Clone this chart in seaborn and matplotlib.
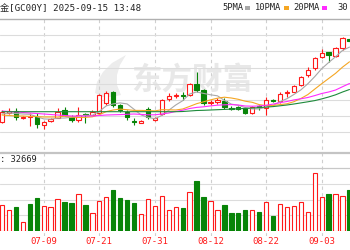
import numpy as np
import pandas as pd
import matplotlib
matplotlib.use("Agg")
import matplotlib.pyplot as plt
import seaborn as sns
from matplotlib.patches import Rectangle, Polygon

sns.set_theme(style="white")
plt.rcParams['font.family'] = ['DejaVu Sans Mono', 'Noto Sans CJK SC']

# ---------------- data ----------------
dates = ["07-01", "07-02", "07-03", "07-04", "07-07", "07-08", "07-09", "07-10", "07-11", "07-14",
         "07-15", "07-16", "07-17", "07-18", "07-21", "07-22", "07-23", "07-24", "07-25", "07-28",
         "07-29", "07-30", "07-31", "08-01", "08-04", "08-05", "08-06", "08-07", "08-08", "08-11",
         "08-12", "08-13", "08-14", "08-15", "08-18", "08-19", "08-20", "08-21", "08-22", "08-25",
         "08-26", "08-27", "08-28", "08-29", "09-01", "09-02", "09-03", "09-04", "09-05", "09-08",
         "09-09"]
tick_labels = ["07-09", "07-21", "07-31", "08-12", "08-22", "09-03"]

open_ = [3260, 3305, 3317.5, 3280, 3285, 3287.5, 3245, 3265, 3282.5, 3322.5,
         3287.5, 3270, 3302.5, 3297.5, 3305, 3355, 3410, 3345, 3312.5, 3265,
         3257.5, 3325, 3272.5, 3300, 3377.5, 3392.5, 3397.5, 3395, 3450, 3420,
         3355, 3361.5, 3366.5, 3332.5, 3337.5, 3330, 3305, 3340, 3332.5, 3371,
         3367.5, 3405, 3411.5, 3445, 3495, 3528.5, 3586.5, 3610, 3590, 3628.5,
         3677.5]
high = [3320, 3330, 3330, 3292.5, 3305, 3305, 3267.5, 3282.5, 3332.5, 3335,
        3295, 3335, 3307.5, 3320, 3400, 3417.5, 3415, 3352.5, 3320, 3280,
        3272.5, 3337.5, 3287.5, 3375, 3405, 3407.5, 3410, 3455, 3510, 3427.5,
        3372.5, 3380, 3380, 3342.5, 3342.5, 3335, 3342.5, 3347.5, 3385, 3377.5,
        3412.5, 3420, 3445, 3490, 3535, 3587.5, 3627.5, 3611.5, 3635, 3686.5,
        3682.5]
low = [3255, 3300, 3270, 3275, 3240, 3230, 3227.5, 3260, 3280, 3290,
       3260, 3260, 3255, 3295, 3300, 3345, 3337.5, 3312.5, 3270, 3245,
       3255, 3275, 3265, 3295, 3365, 3382.5, 3370, 3390, 3410, 3347.5,
       3345, 3350, 3325, 3320, 3320, 3302.5, 3300, 3320, 3295, 3362.5,
       3355, 3385, 3410, 3440, 3485, 3520, 3581.5, 3561.5, 3585, 3620,
       3660]
close = [3312.5, 3317.5, 3285, 3287.5, 3290, 3252.5, 3262.5, 3277.5, 3312.5, 3295,
         3270, 3295, 3295, 3310, 3395, 3407.5, 3345, 3320, 3285, 3260,
         3267.5, 3285, 3282.5, 3370, 3390, 3397.5, 3392.5, 3450, 3420, 3355,
         3362.5, 3368.5, 3335, 3327.5, 3325, 3305, 3335, 3335, 3370, 3367.5,
         3402.5, 3408.5, 3440, 3485, 3520, 3581.5, 3606.5, 3595, 3628.5, 3678.5,
         3665]

ma5 = [3300, 3305, 3302.5, 3300, 3298.5, 3286.5, 3275.5, 3274, 3279, 3280,
       3283.5, 3290, 3293.5, 3293, 3313, 3340.5, 3350.5, 3355.5, 3350.5, 3323.5,
       3295.5, 3283.5, 3276, 3293, 3319, 3345, 3366.5, 3400, 3410, 3403,
       3396, 3391, 3368, 3349.5, 3343.5, 3332, 3325.5, 3325.5, 3334, 3342.5,
       3362, 3376.5, 3397.5, 3420.5, 3451, 3487, 3526.5, 3557.5, 3586.5, 3618,
       3634.5]
ma10 = [3295, 3292.5, 3290, 3290, 3287.5, 3287.5, 3285, 3285, 3285, 3289,
        3285, 3282.5, 3283.5, 3286, 3296.5, 3312, 3320, 3324.5, 3321.5, 3318,
        3318, 3317, 3315.5, 3321.5, 3321, 3320, 3325, 3338, 3351.5, 3361,
        3370.5, 3379, 3384, 3380, 3373.5, 3364, 3358.5, 3347, 3342, 3343,
        3347, 3351, 3361.5, 3377.5, 3397, 3424.5, 3451.5, 3477.5, 3503.5, 3534.5,
        3561]
ma20 = [3315, 3312.5, 3310, 3307.5, 3305, 3302.5, 3300, 3297.5, 3295, 3292.5,
        3290, 3290, 3290, 3290, 3292.5, 3295, 3296, 3297, 3298.5, 3300,
        3298, 3296, 3296, 3300, 3305, 3312.5, 3319, 3327.5, 3333, 3336,
        3340.5, 3344, 3346, 3347, 3345, 3340, 3339, 3340, 3344, 3349.5,
        3356.5, 3362.5, 3370.5, 3376, 3382.5, 3392, 3402.5, 3410, 3420, 3436.5,
        3452.5]
ma30 = [3311.5, 3311.5, 3311.5, 3311.5, 3311.5, 3311.5, 3311.5, 3311.5, 3311.5, 3311.5,
        3311.5, 3311.5, 3311.5, 3311.5, 3311.5, 3311.5, 3311.5, 3311.5, 3311.5, 3311.5,
        3311.5, 3311.5, 3311.5, 3311.5, 3311.5, 3311.5, 3312.5, 3315, 3317.5, 3318.5,
        3320, 3321.5, 3323, 3324.5, 3326, 3328, 3330, 3332, 3334.5, 3337,
        3341, 3345, 3350, 3355.5, 3361, 3367, 3375.5, 3385, 3396, 3410,
        3422.5]

volume = [83900, 67700, 78400, 29000, 87100, 106500, 80600, 77400, 103200, 93500,
          90300, 119400, 83900, 58100, 96800, 109700, 132300, 106500, 100000, 90300,
          54800, 103200, 80600, 112900, 67700, 76500, 73200, 124800, 161300, 110600,
          95800, 66800, 83900, 59000, 59000, 66800, 66800, 61300, 93500, 47400,
          87100, 76500, 79700, 93500, 61300, 186100, 110600, 120300, 120300, 113900,
          132300]
vol_up = [1, 1, 0, 1, 0, 0, 1, 1, 1, 0,
          0, 1, 0, 1, 1, 1, 0, 0, 0, 0,
          1, 1, 1, 1, 1, 1, 0, 1, 0, 0,
          1, 1, 0, 0, 0, 0, 1, 0, 1, 0,
          1, 1, 1, 1, 1, 1, 1, 0, 1, 1,
          0]

title_text = "金[GC00Y] 2025-09-15 13:48"
legend_labels = ["5PMA", "10PMA", "20PMA", "30"]
volume_text = ": 32669"
watermark = "东方财富"

# ---------------- styling ----------------
RED = "#ff1a1a"
GREEN = "#088408"
MA_COLORS = ["#a8a8a8", "#f5a623", "#ff2bff", "#1e8a3c"]
GRID = "#dcdcdc"

W, H = 350, 250
def fy(py):
    return 1 - py / H

step = 6.95
xmin = -2.0 / step
xmax = xmin + W / step

df = pd.DataFrame({"idx": np.arange(len(dates)), "date": dates,
                   "open": open_, "high": high, "low": low, "close": close,
                   "ma5": ma5, "ma10": ma10, "ma20": ma20, "ma30": ma30,
                   "volume": volume, "vol_up": vol_up})

fig = plt.figure(figsize=(W / 100, H / 100), dpi=100, facecolor="white")

# background axes: dashed verticals + watermark
bg = fig.add_axes([0, fy(236), 1, fy(19) - fy(236)], facecolor="none")
bg.set_xlim(xmin, xmax)
bg.set_ylim(0, 1)
bg.axis("off")
tick_idx = [dates.index(t) for t in tick_labels]
for t in tick_idx:
    bg.axvline(t, color="#cfcfcf", lw=0.8, ls=(0, (3, 3)))
bg.text(192 / W, fy(80), watermark, transform=fig.transFigure, ha="center", va="center",
        fontsize=22, color="#e8e8e8", fontweight="bold", family=["Noto Sans CJK SC"])
# light flame-like logo of the watermark
logo_px = [(95, 93), (97, 82), (103, 72), (112, 63), (126, 55), (120, 65), (117, 75),
           (117, 85), (121, 95), (112, 97), (102, 97)]
bg.add_patch(Polygon([(px / W, fy(py)) for px, py in logo_px], closed=True,
                     facecolor="#ececec", edgecolor="none", transform=fig.transFigure))

# price axes
ax = fig.add_axes([0, fy(152.7), 1, fy(19) - fy(152.7)], facecolor="none")
ptop, pbot = 3775, 3106.5
ax.set_xlim(xmin, xmax)
ax.set_ylim(pbot, ptop)
gstep = 80.85
ax.set_yticks([ptop - gstep * k for k in range(1, 8)])
ax.yaxis.grid(True, color=GRID, lw=0.8)
ax.set_xticks([])
ax.tick_params(left=False, labelleft=False)
for s in ["left", "right"]:
    ax.spines[s].set_visible(False)
ax.spines["top"].set_color("#b0b0b0")
ax.spines["top"].set_linewidth(1.0)
ax.spines["bottom"].set_color("#c4c4c4")
ax.spines["bottom"].set_linewidth(1.6)

ups = df["close"] >= df["open"]
cols = np.where(ups, RED, GREEN)
ax.vlines(df["idx"], df["low"], df["high"], colors=cols, lw=0.8, zorder=3)
body_bot = np.minimum(df["open"], df["close"])
body_h = np.maximum(np.abs(df["close"] - df["open"]), 0.8)
ax.bar(df["idx"], body_h, bottom=body_bot, width=0.62,
       color=np.where(ups, "white", GREEN), edgecolor=cols, lw=0.8, zorder=4)

for col, c in zip(["ma5", "ma10", "ma20", "ma30"], MA_COLORS):
    sns.lineplot(data=df, x="idx", y=col, ax=ax, color=c, lw=0.8, zorder=5, legend=False)
ax.set_xlabel("")
ax.set_ylabel("")

# volume axes
vax = fig.add_axes([0, fy(231), 1, fy(168.3) - fy(231)], facecolor="none")
vax.set_xlim(xmin, xmax)
vax.set_ylim(0, 202000)
vax.set_yticks([50000, 100000, 150000])
vax.yaxis.grid(True, color=GRID, lw=0.8)
vax.tick_params(left=False, labelleft=False)
vup = df["vol_up"] == 1
vcols = np.where(vup, RED, GREEN)
vax.bar(df["idx"], df["volume"], width=0.62, color=np.where(vup, "white", GREEN),
        edgecolor=vcols, lw=0.8, zorder=3)
for s in ["left", "right", "bottom"]:
    vax.spines[s].set_visible(False)
vax.spines["top"].set_color("#c8c8c8")
vax.spines["top"].set_linewidth(0.9)
vax.set_xticks(tick_idx)
vax.set_xticklabels(tick_labels, color=RED, fontsize=6.5)
vax.tick_params(axis="x", length=0, pad=4)
vax.set_xlabel("")
vax.set_ylabel("")

# header texts
fig.text(0 / W, fy(8), title_text, fontsize=6.6, color="#222222", ha="left", va="center")
fig.text(0 / W, fy(160), volume_text, fontsize=6.3, color="#222222", ha="left", va="center")

label_x = [222, 255, 293, 337]
mark_x = [245, 284, 322, None]
for x0, mx, lab, c in zip(label_x, mark_x, legend_labels, MA_COLORS):
    fig.text(x0 / W, fy(8), lab, fontsize=6.3, color="#222222", ha="left", va="center")
    if mx is not None:
        fig.add_artist(Rectangle((mx / W, fy(9.5)), 5 / W, 3 / H, facecolor=c, edgecolor="none",
                                 transform=fig.transFigure))

fig.savefig("out.png", dpi=100, facecolor="white")
